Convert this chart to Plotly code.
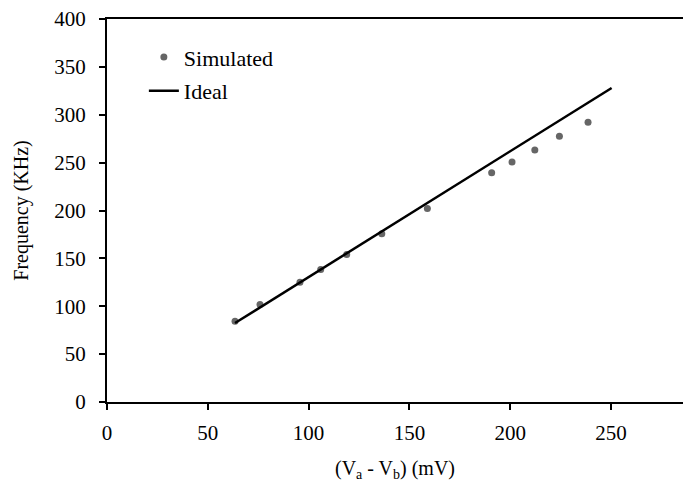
import plotly.graph_objects as go

sim_x = [63.5, 75.9, 95.7, 106.0, 118.9, 136.3, 158.9, 190.8, 200.9, 212.2, 224.4, 238.6]
sim_y = [84.3, 101.8, 125.1, 138.4, 154.1, 175.7, 202.2, 239.5, 250.6, 263.2, 277.5, 292.2]
ideal_x = [63.5, 250.3]
ideal_y = [82.5, 328.0]
x_ticks = [0, 50, 100, 150, 200, 250]
y_ticks = [0, 50, 100, 150, 200, 250, 300, 350, 400]

FONT = "Liberation Serif"

fig = go.Figure()
fig.add_trace(go.Scatter(x=sim_x, y=sim_y, mode="markers", name="Simulated",
                         marker=dict(color="#666666", size=7), legendgroup="a"))
fig.add_trace(go.Scatter(x=ideal_x, y=ideal_y, mode="lines", name="Ideal",
                         line=dict(color="black", width=2.5), legendgroup="b"))

fig.update_layout(
    width=683, height=486,
    margin=dict(l=107, r=0, t=19, b=84),
    paper_bgcolor="white", plot_bgcolor="white",
    font=dict(family=FONT, size=21, color="black"),
    showlegend=True,
    legend=dict(x=0.064, y=0.955, xanchor="left", yanchor="top",
                font=dict(family=FONT, size=22), bgcolor="rgba(0,0,0,0)",
                tracegroupgap=2),
    xaxis=dict(range=[0, 285.7], tickvals=x_ticks, showgrid=False, zeroline=False,
               showline=True, linecolor="black", linewidth=2, mirror=True,
               ticks="outside", ticklen=6, tickwidth=2, tickcolor="black",
               ticklabelstandoff=5,
               title=dict(text="(V<sub>a</sub> - V<sub>b</sub>) (mV)", font=dict(size=20), standoff=17)),
    yaxis=dict(range=[0, 400], tickvals=y_ticks, showgrid=False, zeroline=False,
               showline=True, linecolor="black", linewidth=2, mirror=False,
               ticks="outside", ticklen=6, tickwidth=2, tickcolor="black",
               ticklabelstandoff=9,
               title=dict(text="Frequency (KHz)", font=dict(size=20), standoff=20)),
)

fig.write_html("out.html")
